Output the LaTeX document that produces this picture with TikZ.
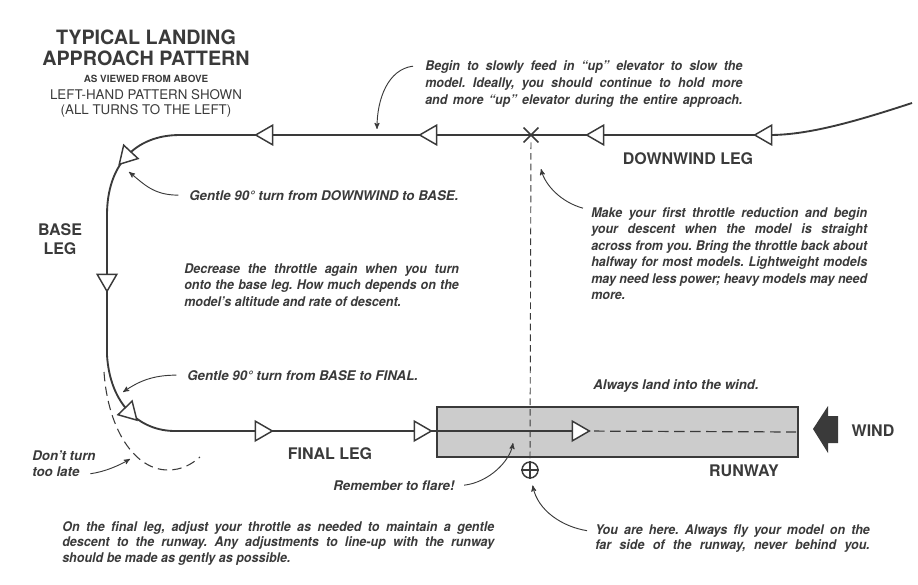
\documentclass[tikz,border=0pt]{standalone}
\usepackage{fontspec}
\setmainfont{TeX Gyre Heros}
\newfontfamily\notefont[Ligatures=TeX, FakeStretch=0.94]{TeX Gyre Heros}
\usepackage{xcolor}
\usepackage{tikz}
\usetikzlibrary{arrows, shapes.geometric, shapes.misc}
\definecolor{ink}{HTML}{3A3A3A}
\frenchspacing

\begin{document}
\begin{tikzpicture}[x=0.75pt, y=-0.75pt, >=stealth']
            \tikzset{
                leg/.style={draw=ink, line width=1.4pt},
                flowtri/.style={draw=ink, line width=1.1pt, fill=white, regular polygon, regular polygon sides=3, minimum size=17pt, inner sep=0pt},
                note/.style={text=ink, inner sep=0pt, font=\fontsize{10}{12.4}\selectfont\bfseries\itshape},
                para/.style={text=ink, inner sep=0pt, text width=#1, align=justify, font=\fontsize{10}{12.4}\notefont\bfseries\itshape\sloppy},
                legname/.style={text=ink, inner sep=0pt, font=\fontsize{12}{14.25}\selectfont\bfseries},
                callout/.style={draw=ink, line width=0.7pt, ->},
                sightline/.style={draw=ink, line width=0.7pt, dash pattern=on 5pt off 3pt},
                rollout/.style={draw=ink, line width=0.9pt, dash pattern=on 8pt off 4pt},
                lateturn/.style={draw=ink, line width=0.8pt, dash pattern=on 7pt off 4pt}
            }
            \useasboundingbox (0,0) rectangle (918,585);

            % title block
            \node[text=ink, inner sep=0pt, align=center, anchor=base, font=\fontsize{14.8}{16.5}\selectfont\bfseries] (title) at (146,66) {TYPICAL LANDING\\APPROACH PATTERN};
            \node[text=ink, inner sep=0pt, anchor=base, font=\fontsize{7.4}{9}\selectfont\bfseries] (viewed) at (146,82.5) {AS VIEWED FROM ABOVE};
            \node[text=ink, inner sep=0pt, align=center, anchor=base, font=\fontsize{10}{11.25}\selectfont] (lefthand) at (146,114) {LEFT-HAND PATTERN SHOWN\\(ALL TURNS TO THE LEFT)};

            % runway
            \node[draw=ink, line width=1.3pt, fill=black!20, minimum width=270.75pt, minimum height=37.5pt, inner sep=0pt] (rwy) at (617.5,432) {};
            \node[legname, anchor=base] (rwyname) at (744,476) {RUNWAY};
            \fill[ink] (813,429) -- (828,406) -- (828,416) -- (838,416) -- (838,443) -- (828,443) -- (828,453) -- cycle;
            \node[legname, anchor=base] (wind) at (873,436) {WIND};

            % flight path
            \coordinate (entry) at (912,103);
            \coordinate (dwstart) at (770,135);
            \coordinate (dwend) at (180,135);
            \coordinate (basetop) at (107,215);
            \coordinate (basebot) at (107,355);
            \coordinate (finstart) at (175,431);
            \coordinate (touch) at (578,431);
            \draw[leg] (entry) .. controls (860,120) and (810,135) .. (dwstart) -- (dwend)
                .. controls (135,135) and (107,165) .. (basetop) -- (basebot)
                .. controls (110,405) and (140,431) .. (finstart) -- (touch);
            \draw[rollout] (touch) -- ([xshift=-2pt]rwy.east);
            \draw[lateturn] (104,372) .. controls (108,430) and (135,470) .. (168,470) .. controls (182,470) and (192,464) .. (200,457);

            \node[flowtri, rotate=90] (t1) at (766,135) {};
            \node[flowtri, rotate=90] (t2) at (598,135) {};
            \node[flowtri, rotate=90] (t3) at (431,135) {};
            \node[flowtri, rotate=90] (t4) at (267,135) {};
            \node[flowtri, rotate=137] (t5) at (127,156) {};
            \node[flowtri, rotate=180] (t6) at (107,280) {};
            \node[flowtri, rotate=-136] (t7) at (129,412) {};
            \node[flowtri, rotate=-90] (t8) at (261,431) {};
            \node[flowtri, rotate=-90] (t9) at (420,431) {};
            \node[flowtri, rotate=-90] (t10) at (touch) {};

            % abeam point and pilot
            \node[cross out, draw=ink, line width=1.1pt, minimum width=10pt, minimum height=10pt, inner sep=0pt] (abeam) at (531,135) {};
            \node[circle, draw=ink, line width=1.1pt, minimum size=12pt, inner sep=0pt] (you) at (530,470) {};
            \draw[ink, line width=1.1pt] (you.north) -- (you.south) (you.west) -- (you.east);
            \draw[sightline] (abeam) -- (you.north);

            % leg names
            \node[legname, anchor=base] (dwname) at (688,164) {DOWNWIND LEG};
            \node[legname, anchor=base, align=center] (basename) at (60,254) {BASE\\LEG};
            \node[legname, anchor=base] (finname) at (330,459) {FINAL LEG};

            % notes
            \node[para=238pt, anchor=base west] (feed) at (425,71) {Begin to slowly feed in ``up'' elevator to slow the\linebreak model. Ideally, you should continue to hold more\linebreak and more ``up'' elevator during the entire approach.\linebreak};
            \node[para=207pt, anchor=base west] (reduce) at (591,217) {Make your first throttle reduction and begin\linebreak your descent when the model is straight\linebreak across from you. Bring the throttle back about\linebreak halfway for most models. Lightweight models\linebreak may need less power; heavy models may need\linebreak more.};
            \node[note, anchor=base west] (gentleD) at (189,200) {Gentle 90° turn from DOWNWIND to BASE.};
            \node[para=206pt, anchor=base west] (decrease) at (184,273) {Decrease the throttle again when you turn\linebreak onto the base leg. How much depends on the\linebreak model's altitude and rate of descent.};
            \node[note, anchor=base west] (gentleB) at (187,380) {Gentle 90° turn from BASE to FINAL.};
            \node[note, anchor=base west] (intowind) at (593,389) {Always land into the wind.};
            \node[note, anchor=base west, align=left, font=\fontsize{10}{12}\selectfont\bfseries\itshape] (late) at (32,476) {Don't turn\\too late};
            \node[note, anchor=base west] (flare) at (333,490) {Remember to flare!};
            \node[para=324pt, anchor=base west, font=\fontsize{10}{11.8}\notefont\bfseries\itshape\sloppy] (finalnote) at (62,531) {On the final leg, adjust your throttle as needed to maintain a gentle\linebreak descent to the runway. Any adjustments to line-up with the runway\linebreak should be made as gently as possible.};
            \node[para=206pt, anchor=base west, font=\fontsize{10}{11.25}\notefont\bfseries\itshape\sloppy] (here) at (595,534) {You are here. Always fly your model on the\linebreak far side of the runway, never behind you.\linebreak};

            % callouts
            \coordinate (feedpt) at (377,129);
            \coordinate (reducept) at (541,169);
            \coordinate (turnD) at (129,172);
            \coordinate (turnB) at (123,392);
            \coordinate (latept) at (130,459);
            \coordinate (flarept) at (513,443);
            \draw[callout] ([xshift=-9pt, yshift=-4pt]feed.north west) .. controls +(-25,3) and +(0,-30) .. (feedpt);
            \draw[callout] ([xshift=-6pt, yshift=-1pt]reduce.north west) .. controls +(-22,-6) and +(4,16) .. (reducept);
            \draw[callout] ([xshift=-8pt]gentleD.west) .. controls +(-25,0) and +(15,12) .. (turnD);
            \draw[callout] ([xshift=-8pt]gentleB.west) .. controls +(-25,0) and +(15,-10) .. (turnB);
            \draw[callout] ([xshift=-4pt, yshift=2pt]late.south east) .. controls +(15,-2) and +(-10,6) .. (latept);
            \draw[callout] ([xshift=7pt]flare.east) .. controls +(25,-3) and +(-3,18) .. (flarept);
            \draw[callout] ([xshift=-6pt, yshift=-5pt]here.north west) .. controls +(-25,-4) and +(5,25) .. ([xshift=2pt, yshift=-5pt]you.south);
        \end{tikzpicture}
\end{document}
